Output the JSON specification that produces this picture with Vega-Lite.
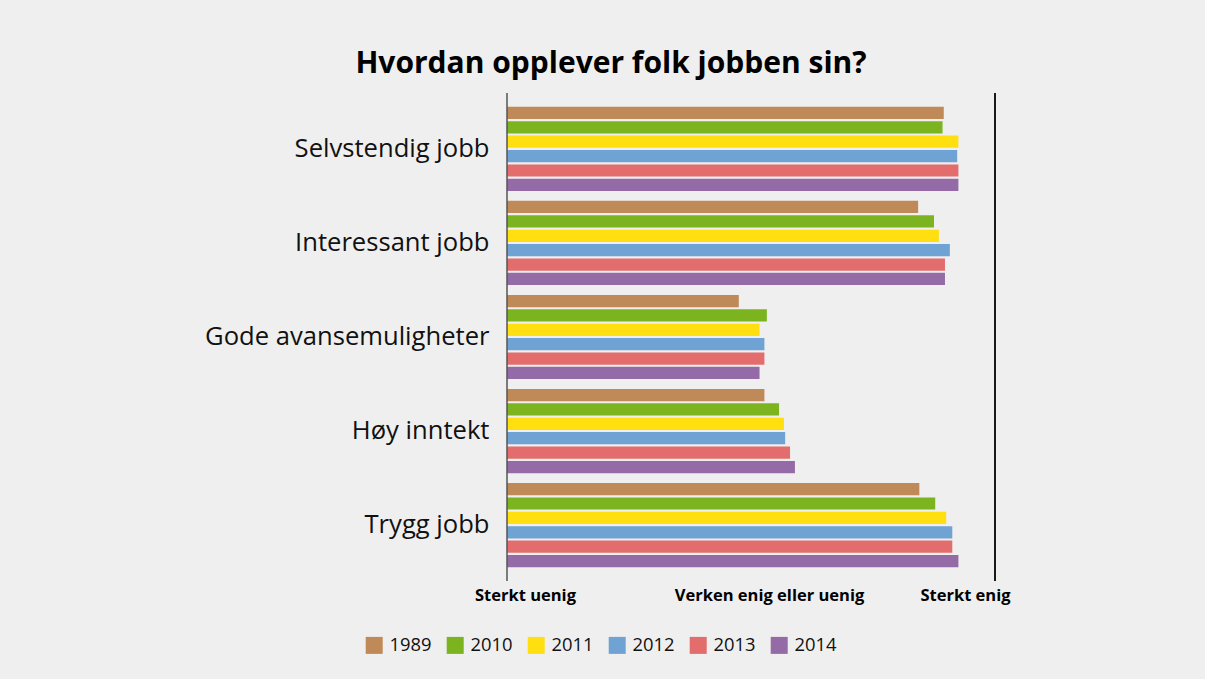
{
  "$schema": "https://vega.github.io/schema/vega-lite/v6.json",
  "width": 488,
  "height": 488,
  "autosize": {"type": "none"},
  "padding": {"left": 507, "top": 93, "right": 210, "bottom": 98},
  "background": "#efefef",
  "title": {"text": "Hvordan opplever folk jobben sin?", "font": "Open Sans", "fontSize": 30, "fontWeight": "bold", "color": "#000000", "anchor": "middle", "frame": "group", "dx": -140, "offset": 13},
  "config": {"view": {"stroke": null}, "font": "Open Sans"},
  "data": {"values": [
    {"kategori": "Selvstendig jobb", "aar": "1989", "verdi": 4.58},
    {"kategori": "Selvstendig jobb", "aar": "2010", "verdi": 4.57},
    {"kategori": "Selvstendig jobb", "aar": "2011", "verdi": 4.70},
    {"kategori": "Selvstendig jobb", "aar": "2012", "verdi": 4.69},
    {"kategori": "Selvstendig jobb", "aar": "2013", "verdi": 4.70},
    {"kategori": "Selvstendig jobb", "aar": "2014", "verdi": 4.70},
    {"kategori": "Interessant jobb", "aar": "1989", "verdi": 4.37},
    {"kategori": "Interessant jobb", "aar": "2010", "verdi": 4.50},
    {"kategori": "Interessant jobb", "aar": "2011", "verdi": 4.54},
    {"kategori": "Interessant jobb", "aar": "2012", "verdi": 4.63},
    {"kategori": "Interessant jobb", "aar": "2013", "verdi": 4.59},
    {"kategori": "Interessant jobb", "aar": "2014", "verdi": 4.59},
    {"kategori": "Gode avansemuligheter", "aar": "1989", "verdi": 2.90},
    {"kategori": "Gode avansemuligheter", "aar": "2010", "verdi": 3.13},
    {"kategori": "Gode avansemuligheter", "aar": "2011", "verdi": 3.07},
    {"kategori": "Gode avansemuligheter", "aar": "2012", "verdi": 3.11},
    {"kategori": "Gode avansemuligheter", "aar": "2013", "verdi": 3.11},
    {"kategori": "Gode avansemuligheter", "aar": "2014", "verdi": 3.07},
    {"kategori": "Høy inntekt", "aar": "1989", "verdi": 3.11},
    {"kategori": "Høy inntekt", "aar": "2010", "verdi": 3.23},
    {"kategori": "Høy inntekt", "aar": "2011", "verdi": 3.27},
    {"kategori": "Høy inntekt", "aar": "2012", "verdi": 3.28},
    {"kategori": "Høy inntekt", "aar": "2013", "verdi": 3.32},
    {"kategori": "Høy inntekt", "aar": "2014", "verdi": 3.36},
    {"kategori": "Trygg jobb", "aar": "1989", "verdi": 4.38},
    {"kategori": "Trygg jobb", "aar": "2010", "verdi": 4.51},
    {"kategori": "Trygg jobb", "aar": "2011", "verdi": 4.60},
    {"kategori": "Trygg jobb", "aar": "2012", "verdi": 4.65},
    {"kategori": "Trygg jobb", "aar": "2013", "verdi": 4.65},
    {"kategori": "Trygg jobb", "aar": "2014", "verdi": 4.70}
  ]},
  "layer": [
    {
      "mark": {"type": "bar"},
      "encoding": {
        "y": {
          "field": "kategori", "type": "nominal",
          "sort": ["Selvstendig jobb", "Interessant jobb", "Gode avansemuligheter", "Høy inntekt", "Trygg jobb"],
          "scale": {"paddingInner": 0.105, "paddingOuter": 0.147},
          "title": null,
          "axis": {"domain": false, "ticks": false, "labelFont": "Open Sans", "labelFontSize": 25.6, "labelColor": "#111111", "labelPadding": 18, "labelLimit": 500}
        },
        "yOffset": {"field": "aar", "type": "nominal", "scale": {"paddingInner": 0.15, "paddingOuter": 0}},
        "x": {
          "field": "verdi", "type": "quantitative",
          "scale": {"domain": [1, 5], "nice": false, "zero": false},
          "title": null,
          "axis": {
            "values": [1, 3, 5],
            "labelExpr": "datum.value == 1 ? 'Sterkt uenig' : datum.value == 3 ? 'Verken enig eller uenig' : 'Sterkt enig'",
            "labelOffset": {"condition": {"test": "datum.value == 5", "value": -30}, "value": 18},
            "domain": false, "ticks": false, "grid": false,
            "labelFont": "Open Sans", "labelFontWeight": "bold", "labelFontSize": 16.5, "labelColor": "#000000",
            "labelPadding": 6, "labelFlush": false, "labelOverlap": false, "labelLimit": 400
          }
        },
        "x2": {"datum": 1},
        "color": {
          "field": "aar", "type": "nominal",
          "scale": {"domain": ["1989", "2010", "2011", "2012", "2013", "2014"], "range": ["#c08a58", "#7cb41f", "#ffdf10", "#6fa3d3", "#e36c6d", "#946ba6"]},
          "legend": {"orient": "none", "legendX": -142, "legendY": 543, "direction": "horizontal", "columns": 6, "title": null, "symbolType": "square", "symbolSize": 289, "symbolStrokeWidth": 0, "labelFont": "Open Sans", "labelFontSize": 18.4, "labelColor": "#111111", "labelOffset": 6, "columnPadding": 14}
        }
      }
    },
    {
      "data": {"values": [{}]},
      "mark": {"type": "rule", "color": "#555555", "strokeWidth": 1.5},
      "encoding": {"x": {"datum": 1, "type": "quantitative"}}
    },
    {
      "data": {"values": [{}]},
      "mark": {"type": "rule", "color": "#1a1a1a", "strokeWidth": 2},
      "encoding": {"x": {"datum": 5, "type": "quantitative"}}
    }
  ]
}
